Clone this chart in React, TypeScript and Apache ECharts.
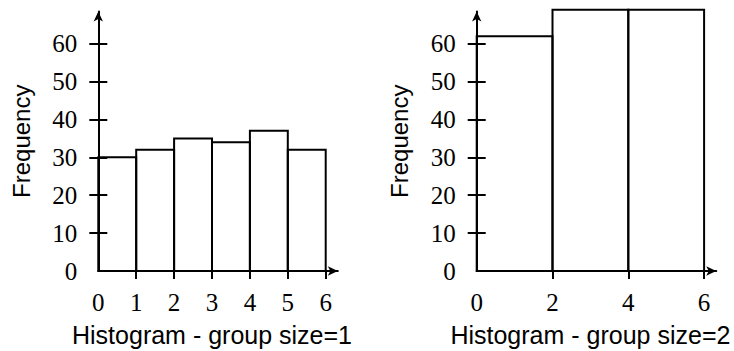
import React, { useEffect, useRef } from "react";
import * as echarts from "echarts";

const edges1 = [0, 1, 2, 3, 4, 5, 6];
const freq1 = [30, 32, 35, 34, 37, 32];
const edges2 = [0, 2, 4, 6];
const freq2 = [62, 69, 69];
const xLabels1 = [0, 1, 2, 3, 4, 5, 6];
const xTicks1 = [1, 2, 3, 4, 5, 6];
const xLabels2 = [0, 2, 4, 6];
const xTicks2 = [2, 4, 6];
const yLabels = [0, 10, 20, 30, 40, 50, 60];
const yTicks = [10, 20, 30, 40, 50, 60];
const titles = ["Histogram - group size=1", "Histogram - group size=2"];
const yName = "Frequency";

const W = 734;
const H = 351;
const X_MAX = 6.32;
const Y_MAX = 68.5;
const PX_X = 37.9;
const PX_Y = 3.788;
const BASE_Y = 271;
const LEFTS = [98.3, 476.7];

const SERIF = "Liberation Serif";
const SANS = "Liberation Sans";

function binsData(edges: number[], freq: number[]) {
  return freq.map((f, i) => [edges[i], edges[i + 1], f]);
}

export default function App() {
  const ref = useRef<HTMLDivElement>(null);
  useEffect(() => {
    if (!ref.current) return;
    const chart = echarts.init(ref.current, undefined, { renderer: "svg" });
    const gridW = X_MAX * PX_X;
    const gridH = Y_MAX * PX_Y;
    const gridTop = BASE_Y - gridH;
    const grids = LEFTS.map((l) => ({ left: l, top: gridTop, width: gridW, height: gridH }));
    const xLabelSets = [xLabels1, xLabels2];
    const xTickSets = [xTicks1, xTicks2];
    const xAxes = [0, 1].map((i) => ({
      type: "value",
      gridIndex: i,
      min: 0,
      max: X_MAX,
      splitLine: { show: false },
      axisLine: {
        show: true,
        onZero: false,
        symbol: ["none", "arrow"],
        symbolSize: [7, 10],
        lineStyle: { color: "#000", width: 2 },
      },
      axisTick: {
        show: true,
        inside: false,
        length: 8,
        customValues: xTickSets[i],
        lineStyle: { color: "#000", width: 2 },
      },
      axisLabel: {
        show: true,
        customValues: xLabelSets[i],
        margin: 19,
        color: "#000",
        fontFamily: SERIF,
        fontSize: 25,
      },
    }));
    const yAxes: any[] = [];
    [0, 1].forEach((i) => {
      yAxes.push({
        type: "value",
        gridIndex: i,
        position: "left",
        min: 0,
        max: Y_MAX,
        name: yName,
        nameLocation: "middle",
        nameRotate: 90,
        nameGap: 65,
        nameTextStyle: { color: "#000", fontFamily: SANS, fontSize: 24 },
        splitLine: { show: false },
        axisLine: {
          show: true,
          onZero: false,
          symbol: ["none", "arrow"],
          symbolSize: [7, 10],
          lineStyle: { color: "#000", width: 2 },
        },
        axisTick: {
          show: true,
          inside: false,
          length: 9,
          customValues: yTicks,
          lineStyle: { color: "#000", width: 2 },
        },
        axisLabel: {
          show: true,
          customValues: yLabels,
          margin: 21,
          color: "#000",
          fontFamily: SERIF,
          fontSize: 25,
        },
      });
    });
    [0, 1].forEach((i) => {
      yAxes.push({
        type: "value",
        gridIndex: i,
        position: "left",
        min: 0,
        max: Y_MAX,
        splitLine: { show: false },
        axisLine: { show: false },
        axisTick: {
          show: true,
          inside: true,
          length: 9,
          customValues: yTicks,
          lineStyle: { color: "#000", width: 2 },
        },
        axisLabel: { show: false },
      });
    });
    const renderBar = (params: any, api: any) => {
      const p0 = api.coord([api.value(0), 0]);
      const p1 = api.coord([api.value(1), api.value(2)]);
      return {
        type: "rect",
        shape: { x: p0[0], y: p1[1], width: p1[0] - p0[0], height: p0[1] - p1[1] },
        style: { fill: "none", stroke: "#000", lineWidth: 2 },
      };
    };
    const option: any = {
      animation: false,
      grid: grids,
      xAxis: xAxes,
      yAxis: yAxes,
      series: [
        {
          type: "custom",
          xAxisIndex: 0,
          yAxisIndex: 0,
          renderItem: renderBar,
          data: binsData(edges1, freq1),
          encode: { x: [0, 1], y: 2 },
          clip: false,
          z: 1,
        },
        {
          type: "custom",
          xAxisIndex: 1,
          yAxisIndex: 1,
          renderItem: renderBar,
          data: binsData(edges2, freq2),
          encode: { x: [0, 1], y: 2 },
          clip: false,
          z: 1,
        },
      ],
      graphic: titles.map((t, i) => ({
        type: "text",
        x: LEFTS[i] + 3 * PX_X,
        y: 335,
        style: {
          text: t,
          fill: "#000",
          font: `25px "${SANS}"`,
          textAlign: "center",
          textVerticalAlign: "middle",
        },
      })),
    };
    chart.setOption(option);
    return () => chart.dispose();
  }, []);
  return (
    <div
      ref={ref}
      style={{ position: "fixed", left: 0, top: 0, width: W, height: H, background: "#fff" }}
    />
  );
}
